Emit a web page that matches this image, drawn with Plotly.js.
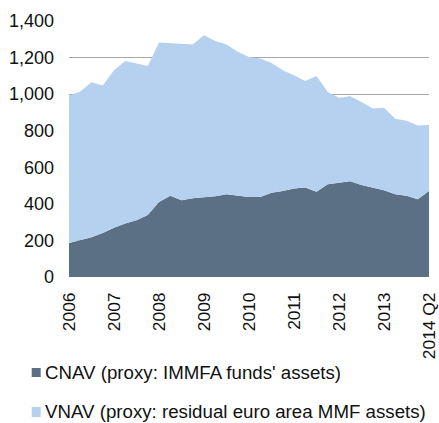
<!DOCTYPE html>
<html>
<head>
<meta charset="utf-8">
<script src="https://cdn.plot.ly/plotly-3.0.1.min.js"></script>
<style>html,body{margin:0;padding:0;background:#fff;}#chart{width:439px;height:423px;}</style>
</head>
<body>
<div id="chart"></div>
<script>
// Quarterly, 2006 Q1 .. 2014 Q2 axis (33 observations), EUR billions
const quarterIndex = Array.from({length: 33}, (_, i) => i);
const cnav = [186, 202, 218, 241, 269, 292, 310, 339, 410, 444, 420, 431, 434, 441, 452, 444,
              437, 437, 461, 470, 484, 489, 466, 507, 514, 523, 503, 488, 475, 453, 445, 425, 470];
const vnav = [807, 813, 847, 806, 861, 889, 858, 815, 872, 836, 858, 841, 888, 850, 819, 788,
              766, 758, 709, 660, 619, 583, 633, 505, 466, 465, 454, 433, 451, 413, 410, 403, 361];
const tickPositions = [0, 4, 8, 12, 16, 20, 24, 28, 32];
const tickLabels = ["2006", "2007", "2008", "2009", "2010", "2011", "2012", "2013", "2014 Q2"];
const seriesNames = ["CNAV (proxy: IMMFA funds' assets)", "VNAV (proxy: residual euro area MMF assets)"];
const seriesColors = ["#5b7085", "#b5d1ef"];

const tickFont = {family: "Liberation Sans, Arial, sans-serif", size: 18, color: "#111"};
const xTickFont = {family: "Liberation Sans, Arial, sans-serif", size: 17.4, color: "#111"};
const legendFont = {family: "Liberation Sans, Arial, sans-serif", size: 18.7, color: "#111"};

const traces = [
  {x: quarterIndex, y: cnav, name: seriesNames[0], type: "scatter", mode: "lines",
   stackgroup: "one", line: {width: 0, color: seriesColors[0]}, fillcolor: seriesColors[0], showlegend: false},
  {x: quarterIndex, y: vnav, name: seriesNames[1], type: "scatter", mode: "lines",
   stackgroup: "one", line: {width: 0, color: seriesColors[1]}, fillcolor: seriesColors[1], showlegend: false}
];

// Legend drawn as swatches + text below the plot (paper coords, plot width 360px)
const legendRows = [{y0: -0.3555, y1: -0.3906, ty: -0.3742}, {y0: -0.5078, y1: -0.5469, ty: -0.5273}];
const shapes = legendRows.map((r, i) => ({
  type: "rect", xref: "paper", yref: "paper", x0: -0.1036, x1: -0.0786, y0: r.y0, y1: r.y1,
  fillcolor: seriesColors[i], line: {width: 0}
}));
const annotations = legendRows.map((r, i) => ({
  xref: "paper", yref: "paper", x: -0.0722, y: r.ty, xanchor: "left", yanchor: "middle",
  text: seriesNames[i], showarrow: false, font: legendFont
}));

const layout = {
  width: 439, height: 423,
  margin: {l: 69, r: 10, t: 21, b: 146},
  paper_bgcolor: "#fff", plot_bgcolor: "#fff",
  font: tickFont,
  showlegend: false,
  shapes: shapes,
  annotations: annotations,
  xaxis: {range: [0, 32], tickmode: "array", tickvals: tickPositions, ticktext: tickLabels,
          tickangle: -90, showgrid: false, zeroline: false, showline: false, ticks: "",
          ticklabelstandoff: 11, ticklabeloverflow: "allow", tickfont: xTickFont, fixedrange: true},
  yaxis: {range: [0, 1400], dtick: 200, tickformat: ",d", showgrid: true, gridcolor: "#a6a6a6",
          gridwidth: 1, zeroline: false, showline: false, ticks: "", ticklabelstandoff: 14,
          tickfont: tickFont, fixedrange: true}
};

Plotly.newPlot("chart", traces, layout, {displayModeBar: false, staticPlot: true});
</script>
</body>
</html>
